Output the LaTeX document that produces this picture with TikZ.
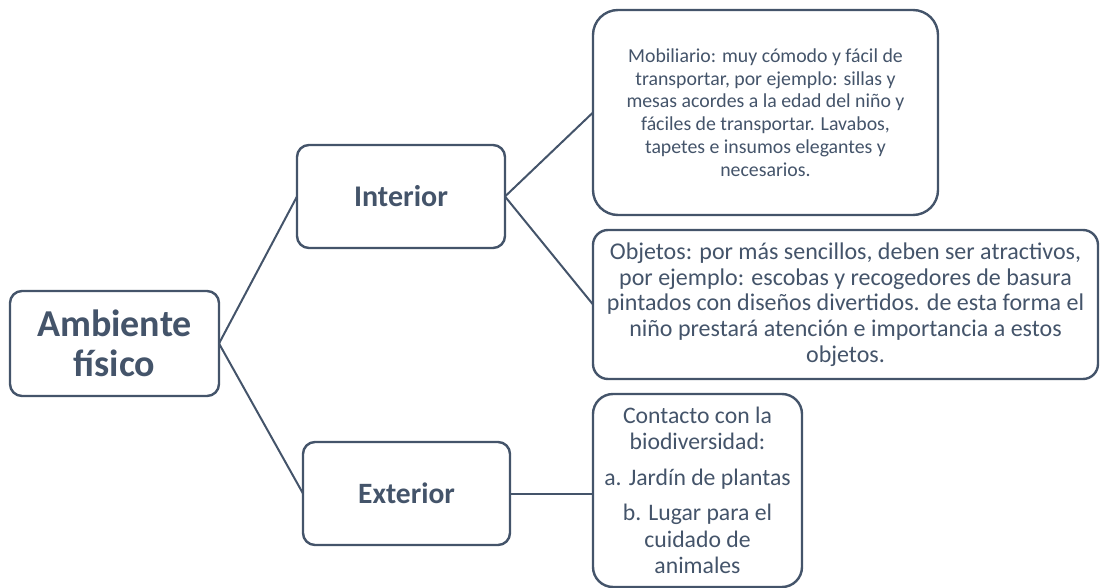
\documentclass[tikz,border=0pt]{standalone}
\usepackage{fontspec}
\setmainfont{Carlito}
\definecolor{slate}{HTML}{44546A}
\begin{document}
\begin{tikzpicture}[x=1pt,y=-1pt,
  box/.style={draw=slate,line width=2.4pt,fill=white,align=center,text=slate,inner sep=0pt,outer sep=0pt},
  link/.style={draw=slate,line width=2pt}]
\useasboundingbox (0,0) rectangle (1101,588);
\node[box,rounded corners=12pt,minimum width=209pt,minimum height=105pt,font=\bfseries\fontsize{38}{40}\selectfont] (amb) at (114.5,343.5) {Ambiente\\físico};
\node[box,rounded corners=12pt,minimum width=208pt,minimum height=103pt,font=\bfseries\fontsize{30}{32}\selectfont] (int) at (401,196.5) {Interior};
\node[box,rounded corners=12pt,minimum width=207pt,minimum height=103pt,font=\bfseries\fontsize{29.5}{32}\selectfont] (ext) at (406.5,493.5) {Exterior};
\node[box,rounded corners=25pt,minimum width=345pt,minimum height=205pt,font=\fontsize{19.8}{22.7}\selectfont] (mob) at (765.5,112.5) {Mobiliario: muy cómodo y fácil de\\transportar, por ejemplo: sillas y\\mesas acordes a la edad del niño y\\fáciles de transportar. Lavabos,\\tapetes e insumos elegantes y\\necesarios.};
\node[box,rounded corners=15pt,minimum width=505pt,minimum height=149pt,font=\fontsize{24}{25.7}\selectfont] (obj) at (845.5,304.5) {Objetos: por más sencillos, deben ser atractivos,\\por ejemplo: escobas y recogedores de basura\\pintados con diseños divertidos. de esta forma el\\niño prestará atención e importancia a estos\\objetos.};
\node[box,rounded corners=20pt,minimum width=209pt,minimum height=193pt,font=\fontsize{23.7}{26.5}\selectfont] (con) at (697.5,490.5) {Contacto con la\\biodiversidad:\\[9pt]a. Jardín de plantas\\[9pt]b. Lugar para el\\cuidado de\\animales};
\draw[link] (amb.east) -- (int.west);
\draw[link] (amb.east) -- (ext.west);
\draw[link] (int.east) -- (mob.west);
\draw[link] (int.east) -- (obj.west);
\draw[link] (ext.east) -- (ext.east -| con.west);
\end{tikzpicture}
\end{document}
